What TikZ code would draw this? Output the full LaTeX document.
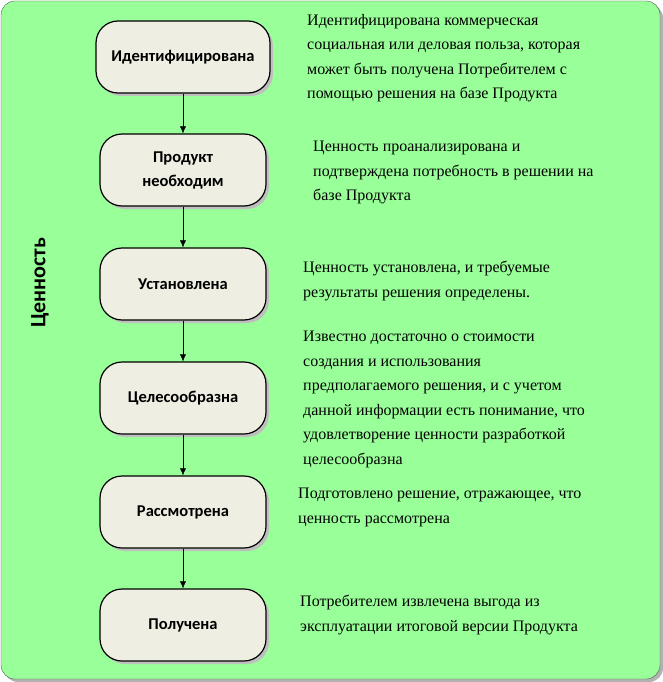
\documentclass[tikz,border=0pt]{standalone}
\usepackage{fontspec}
\setmainfont{Liberation Serif}
\newfontfamily\boxfont{Carlito}
\begin{document}
\begin{tikzpicture}[x=1pt,y=-1pt,
  stage/.style={draw=black,line width=1.2pt,fill=boxfill,rounded corners=22pt,minimum width=166pt,minimum height=72pt,align=center,font=\boxfont\bfseries\fontsize{16.5}{24}\selectfont},
  shade/.style={fill=gray!50,rounded corners=22pt,minimum width=166pt,minimum height=72pt},
  desc/.style={anchor=north west,align=left,inner sep=0pt,font=\fontsize{16}{24.5}\selectfont},
  arr/.style={-{Latex[length=7pt,width=6pt]},thin}]
\usetikzlibrary{arrows.meta}
\definecolor{bg}{HTML}{99FF99}
\definecolor{boxfill}{HTML}{EEEEE2}
\useasboundingbox (0,0) rectangle (663,682);
\fill[gray!60,rounded corners=14pt] (4,4) rectangle (663,682);
\draw[gray!70!black,fill=bg,rounded corners=14pt] (1,1) rectangle (660,679);
\node[rotate=90,font=\boxfont\bfseries\fontsize{22}{26}\selectfont] (v) at (40,283) {Ценность};
\foreach \n/\y/\w/\t in {a/57/174/Идентифицирована, b/170/166/{Продукт\\необходим}, c/284/166/Установлена, d/398/166/Целесообразна, e/512/166/Рассмотрена, f/625/166/Получена}{
  \node[shade,minimum width=\w pt] (s\n) at (186,\y+3) {};
  \node[stage,minimum width=\w pt] (\n) at (183,\y) {\t};
}
\foreach \p/\q in {a/b,b/c,c/d,d/e,e/f} \draw[arr] (\p) -- (\q);
\node[desc] (ta) at (307,14) {Идентифицирована коммерческая\\социальная или деловая польза, которая\\может быть получена Потребителем с\\помощью решения на базе Продукта};
\node[desc] (tb) at (313,141) {Ценность проанализирована и\\подтверждена потребность в решении на\\базе Продукта};
\node[desc] (tc) at (303,261) {Ценность установлена, и требуемые\\результаты решения определены.};
\node[desc] (td) at (303,331) {Известно достаточно о стоимости\\создания и использования\\предполагаемого решения, и с учетом\\данной информации есть понимание, что\\удовлетворение ценности разработкой\\целесообразна};
\node[desc] (te) at (298,488) {Подготовлено решение, отражающее, что\\ценность рассмотрена};
\node[desc] (tf) at (300,595) {Потребителем извлечена выгода из\\эксплуатации итоговой версии Продукта};
\end{tikzpicture}
\end{document}
